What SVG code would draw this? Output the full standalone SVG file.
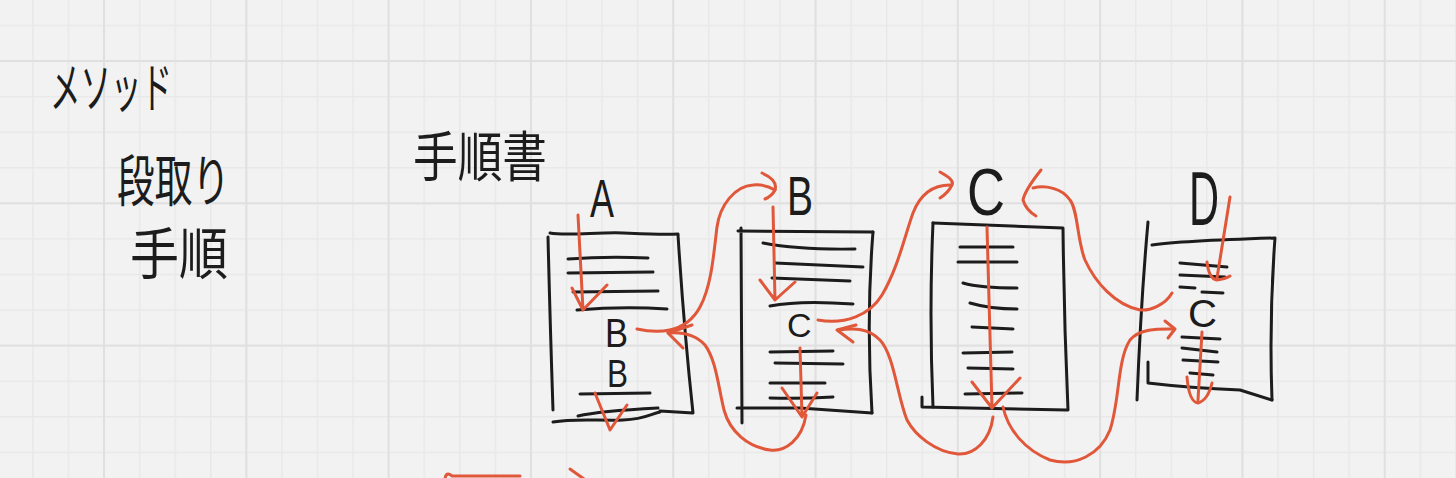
<svg xmlns="http://www.w3.org/2000/svg" width="1456" height="478" viewBox="0 0 1456 478">
<style>
.ink{fill:none;stroke:#1c1c1c;stroke-width:3;stroke-linecap:round;stroke-linejoin:round}
.red{fill:none;stroke:#e0573a;stroke-width:3;stroke-linecap:round;stroke-linejoin:round}
.jp{font-family:"Noto Sans CJK JP","Noto Sans",sans-serif;fill:#1c1c1c}
.lt{font-family:"Liberation Sans",Arial,sans-serif;fill:#1c1c1c}
</style>
<defs>
<pattern id="minor" patternUnits="userSpaceOnUse" x="103.3" y="60.3" width="35.575" height="35.575">
<rect x="0" y="0" width="1.4" height="35.575" fill="#e8e8e8"/>
<rect x="0" y="0" width="35.575" height="1.4" fill="#e8e8e8"/>
</pattern>
<pattern id="major" patternUnits="userSpaceOnUse" x="103" y="60" width="142.3" height="142.3">
<rect x="0" y="0" width="2" height="142.3" fill="#e0e0e0"/>
<rect x="0" y="0" width="142.3" height="2" fill="#e0e0e0"/>
</pattern>
</defs>
<rect width="1456" height="478" fill="#f2f2f2"/>
<rect width="1456" height="478" fill="url(#minor)"/>
<rect width="1456" height="478" fill="url(#major)"/>

<g id="label-method"><text class="jp" x="50" y="108" font-size="54" textLength="122" lengthAdjust="spacingAndGlyphs">メソッド</text></g>
<g id="label-dandori"><text class="jp" x="117" y="201" font-size="56" textLength="113" lengthAdjust="spacingAndGlyphs">段取り</text></g>
<g id="label-tejun"><text class="jp" x="130" y="274" font-size="56" textLength="98" lengthAdjust="spacingAndGlyphs">手順</text></g>
<g id="label-tejunsho"><text class="jp" x="413" y="177" font-size="54" textLength="134" lengthAdjust="spacingAndGlyphs">手順書</text></g>

<g id="doc-A">
<text class="lt" x="590" y="217" font-size="54" textLength="24" lengthAdjust="spacingAndGlyphs">A</text>
<path class="ink" d="M550,233 C565,236 600,232 623,233 S665,235 678,234"/>
<path class="ink" d="M548,237 Q550,320 553,410"/>
<path class="ink" d="M678,235 Q684,330 693,413 L660,411"/>
<path class="ink" d="M553,422 C575,418 600,421 623,420 S650,414 660,412"/>
<path class="ink" d="M578,416 C595,412 620,410 658,408"/>
<path class="ink" d="M568,259 Q607,256 648,258 M568,273 L653,272 M573,292 L658,291 M577,310 Q623,306 667,309 M580,394 L650,393"/>
<text class="lt" x="605" y="347" font-size="40" textLength="23" lengthAdjust="spacingAndGlyphs">B</text>
<text class="lt" x="607" y="387" font-size="38" textLength="21" lengthAdjust="spacingAndGlyphs">B</text>
<path class="red" d="M578,215 L583,310 M572,288 L583,310 L607,285"/>
<path class="red" d="M595,393 L610,430 L627,405"/>
</g>

<g id="doc-B">
<text class="lt" x="787" y="215" font-size="56" textLength="26" lengthAdjust="spacingAndGlyphs">B</text>
<path class="ink" d="M738,231 L873,232 M741,228 L742,423"/>
<path class="ink" d="M873,232 Q866,320 872,413"/>
<path class="ink" d="M737,408 L800,408 Q815,409 872,413"/>
<path class="ink" d="M763,243 Q800,250 855,249 M775,263 L863,267 M772,278 L850,281 M770,306 Q800,300 853,304 M770,352 L833,351 M775,363 L843,364 M770,383 L825,383 M770,398 Q800,399 833,397"/>
<text class="lt" x="787" y="337" font-size="34">C</text>
<path class="red" d="M773,207 L775,300 M760,280 L775,300 L795,282"/>
<path class="red" d="M800,348 L802,417 M782,388 L802,417 L817,393"/>
</g>

<g id="doc-C">
<text class="lt" x="967" y="215" font-size="66" textLength="38" lengthAdjust="spacingAndGlyphs">C</text>
<path class="ink" d="M933,223 L1063,228 Q1064,320 1068,410"/>
<path class="ink" d="M933,223 Q929,313 933,407"/>
<path class="ink" d="M922,397 L922,407 L1067,410"/>
<path class="ink" d="M960,247 L1013,247 M958,262 L1017,262 M963,283 Q980,288 1017,288 M970,303 Q990,309 1017,309 M972,327 L1013,329 M963,353 L1012,352 M968,368 L1013,369 M965,394 L1022,393"/>
<path class="red" d="M987,227 L992,408 M972,382 L992,408 L1020,378"/>
</g>

<g id="doc-D">
<text class="lt" x="1189" y="225" font-size="76" textLength="30" lengthAdjust="spacingAndGlyphs">D</text>
<path class="ink" d="M1148,222 Q1141,300 1137,400"/>
<path class="ink" d="M1152,245 Q1180,241 1275,238 Q1269,320 1272,400"/>
<path class="ink" d="M1148,362 L1148,383 Q1190,388 1240,390 L1272,400"/>
<path class="ink" d="M1180,263 L1227,267 M1180,275 L1225,277 M1180,287 L1195,288 M1202,292 L1223,293 M1182,337 L1220,339 M1182,348 L1217,352 M1183,360 L1218,362 M1190,373 L1213,375"/>
<text class="lt" x="1188" y="327" font-size="38" textLength="29" lengthAdjust="spacingAndGlyphs">C</text>
<path class="red" d="M1230,197 L1217,278 M1207,262 Q1209,279 1217,280 Q1225,279 1230,276"/>
<path class="red" d="M1202,332 L1198,400 M1187,377 Q1189,402 1198,403 Q1208,400 1212,383"/>
</g>

<g id="connectors">
<path class="red" d="M637,329 C655,333 685,335 700,307 C712,285 714,250 717,227 C720,205 735,186 753,185 C762,184 770,187 775,190"/>
<path class="red" d="M762,173 Q778,180 775,190 Q772,196 765,199"/>
<path class="red" d="M806,415 C802,440 785,452 770,450 C748,447 730,432 724,410 C718,385 716,360 705,345 C695,334 680,332 668,333"/>
<path class="red" d="M692,325 L668,333 L683,348"/>
<path class="red" d="M818,320 C845,325 870,315 882,295 C898,268 905,235 913,213 C920,195 932,185 950,185"/>
<path class="red" d="M940,172 Q955,180 952,185 Q948,193 940,198"/>
<path class="red" d="M993,417 C990,440 975,455 958,454 C935,452 915,435 907,420 C897,395 894,355 880,340 C868,328 855,328 838,330"/>
<path class="red" d="M856,325 L837,330 L853,342"/>
<path class="red" d="M1172,293 C1165,305 1150,311 1140,310 C1115,305 1095,282 1085,260 C1077,240 1078,210 1070,200 C1062,188 1045,185 1033,188"/>
<path class="red" d="M1041,170 Q1025,190 1023,200 Q1026,210 1036,216"/>
<path class="red" d="M1003,407 C1008,430 1025,450 1050,460 C1075,467 1100,455 1110,430 C1120,400 1117,360 1130,340 C1140,328 1160,329 1174,329"/>
<path class="red" d="M1165,321 L1175,329 L1168,338"/>
<path class="red" d="M445,479 Q446,471 452,476 L520,476 M570,469 L584,479"/>
</g>
</svg>
